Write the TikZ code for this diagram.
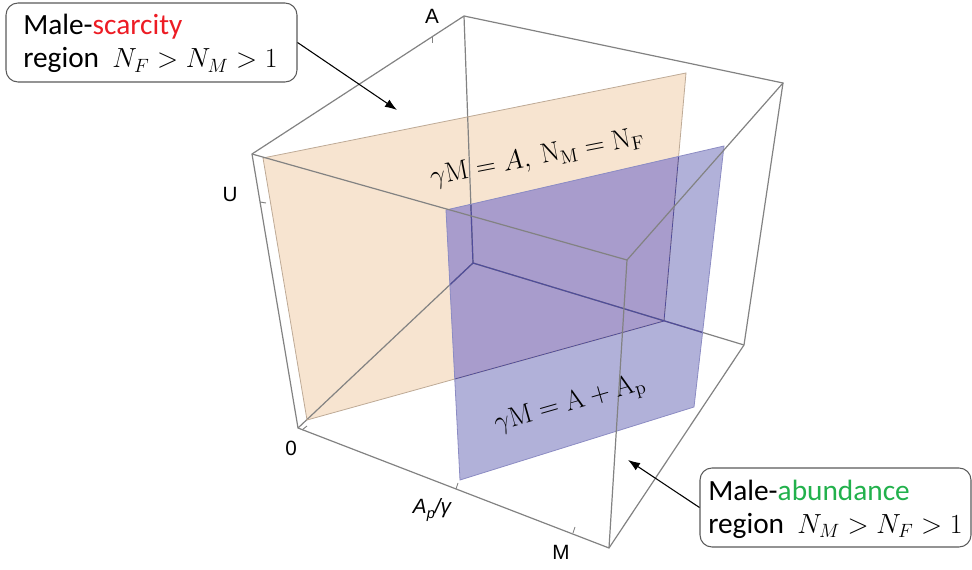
\documentclass[tikz,border=0pt]{standalone}
\usepackage[no-math]{fontspec}
\setmainfont{Carlito}
\newfontfamily\axisfont{Liberation Sans}
\usetikzlibrary{arrows.meta}
\definecolor{orangeplane}{RGB}{247,228,208}
\definecolor{orangeedge}{RGB}{190,170,150}
\definecolor{purpleplane}{RGB}{177,177,217}
\definecolor{purpleedge}{RGB}{140,140,195}
\definecolor{overlapc}{RGB}{168,156,204}
\definecolor{edgegray}{RGB}{130,130,130}
\definecolor{hiddenblue}{RGB}{80,76,155}
\definecolor{scarred}{RGB}{237,28,36}
\definecolor{abgreen}{RGB}{34,177,76}
\definecolor{boxgray}{RGB}{90,90,90}
\begin{document}
\begin{tikzpicture}[x=0.75pt,y=-0.75pt,
  cubeedge/.style={draw=edgegray,line width=0.9pt},
  tickmark/.style={draw=edgegray,line width=0.7pt},
  axislabel/.style={font=\axisfont\fontsize{15.5}{18}\selectfont,inner sep=0pt},
  planelabel/.style={font=\fontsize{20}{24}\selectfont,inner sep=0pt},
  regionbox/.style={draw=boxgray,line width=0.8pt,rounded corners=9pt,inner sep=0pt,fill=white},
  boxtext/.style={font=\fontsize{22}{26}\selectfont,inner sep=0pt,anchor=base west},
  pointer/.style={draw=black,line width=0.8pt,-{Latex[length=9pt,width=6.5pt]}}
]
\useasboundingbox (0,0) rectangle (972,570);

% cube vertices
\coordinate (O) at (298,428);
\coordinate (TL) at (252,154);
\coordinate (AV) at (464,16);
\coordinate (TR) at (783,83);
\coordinate (MC) at (609,548);
\coordinate (BR) at (744,345);
\coordinate (FT) at (627,260);
\coordinate (IN) at (473,263);

% plane corners
\coordinate (o1) at (263,158);
\coordinate (o2) at (686,73);
\coordinate (o3) at (664,321);
\coordinate (o4) at (307,420);
\coordinate (p1) at (446,210);
\coordinate (p2) at (724,146);
\coordinate (p3) at (694,407);
\coordinate (p4) at (460,480);

% planes
\fill[orangeplane] (o1) -- (o2) -- (o3) -- (o4) -- cycle;
\fill[purpleplane] (p1) -- (p2) -- (p3) -- (p4) -- cycle;
\begin{scope}
  \clip (o1) -- (o2) -- (o3) -- (o4) -- cycle;
  \fill[overlapc] (p1) -- (p2) -- (p3) -- (p4) -- cycle;
\end{scope}

% hidden edges and orange outline
\draw[cubeedge] (IN) -- (O) (IN) -- (AV) (IN) -- (BR);
\draw[orangeedge,line width=0.6pt] (o1) -- (o2) -- (o3) -- (o4) -- cycle;
\begin{scope}
  \clip (p1) -- (p2) -- (p3) -- (p4) -- cycle;
  \draw[hiddenblue,line width=0.9pt] (IN) -- (O) (IN) -- (AV) (IN) -- (BR);
  \draw[hiddenblue,line width=0.6pt] (o2) -- (o3) -- (o4);
\end{scope}
\draw[purpleedge,line width=0.6pt] (p1) -- (p2) -- (p3) -- (p4) -- cycle;

% visible cube edges
\draw[cubeedge] (TL) -- (AV) -- (TR) -- (BR) -- (MC) -- (O) -- cycle;
\draw[cubeedge] (TL) -- (FT) -- (TR);
\draw[cubeedge] (FT) -- (MC);

% tick marks
\draw[tickmark] (260,202) -- (266,203);
\draw[tickmark] (432,37) -- (432,43);
\draw[tickmark] (456,489) -- (458,483);
\draw[tickmark] (573,533) -- (575,527);
\draw[tickmark] (302,430) -- (307,426);

% axis labels
\node[axislabel] (labA) at (432,16) {A};
\node[axislabel] (labU) at (230,194) {U};
\node[axislabel] (lab0) at (291,448) {0};
\node[axislabel] (labAp) at (432,510) {\itshape A\raisebox{-0.4ex}{\fontsize{11}{13}\selectfont p}/γ};
\node[axislabel] (labM) at (561,552) {M};

% plane labels
\node[planelabel,rotate=11] (eqorange) at (537,158) {$\gamma\mathrm{M} = A,\ \mathrm{N_M} = \mathrm{N_F}$};
\node[planelabel,rotate=16] (eqpurple) at (570,405) {$\gamma\mathrm{M} = \mathrm{A} + \mathrm{A_p}$};

% region boxes
\node[regionbox,minimum width=218.25pt,minimum height=59.25pt] (box1) at (151.5,42.5) {};
\node[boxtext] (box1a) at (23,35) {Male-\textcolor{scarred}{scarcity}};
\node[boxtext] (box1b) at (23,68) {region~ {\fontsize{20}{24}\selectfont$N_F > N_M > 1$}};
\node[regionbox,minimum width=203.25pt,minimum height=59.25pt] (box2) at (835.5,507.5) {};
\node[boxtext] (box2a) at (708,500) {Male-\textcolor{abgreen}{abundance}};
\node[boxtext] (box2b) at (708,533) {region~ {\fontsize{20}{24}\selectfont$N_M > N_F > 1$}};

% pointers
\coordinate (tip1) at (397,110);
\coordinate (tip2) at (628,460);
\draw[pointer] (box1.east) -- (tip1);
\draw[pointer] (box2.west) -- (tip2);
\end{tikzpicture}
\end{document}
